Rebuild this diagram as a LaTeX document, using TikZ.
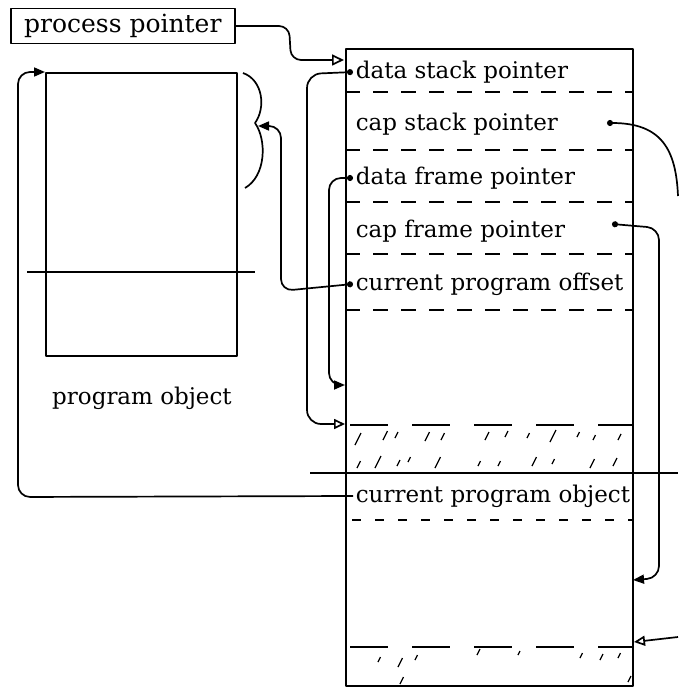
\documentclass[tikz,border=0pt]{standalone}
\usepackage{fontspec}
\setmainfont{DejaVu Serif}
\usetikzlibrary{arrows.meta, positioning, calc}

\begin{document}
\begin{tikzpicture}[x=1pt, y=-1pt, line width=1.7pt, line join=round,
  font=\fontsize{23}{27}\selectfont,
  field/.style={anchor=west, inner sep=2pt},
  ptr/.style={{Circle[length=6pt]}-{Triangle[length=11pt, width=9pt]}, rounded corners=12pt},
  ptropen/.style={{Circle[length=6pt]}-{Triangle[open, length=11pt, width=10pt]}, rounded corners=14pt},
  rowsep/.style={line width=1.8pt, dash pattern=on 15pt off 13pt},
  longsep/.style={line width=1.8pt, dash pattern=on 38pt off 24pt},
  shortsep/.style={line width=1.8pt, dash pattern=on 9pt off 14pt},
  hatch/.style={line width=1.2pt}]

\useasboundingbox (0,0) rectangle (678,690);

% Define nodes
\node[draw, inner sep=3pt, anchor=west, minimum width=224pt, minimum height=35pt,
  font=\fontsize{25}{29}\selectfont] (pp) at (10,26) {process pointer};
\node[draw, anchor=north west, inner sep=0pt, minimum width=191pt, minimum height=283pt] (prog) at (45,72) {};
\node (progl) at (142,398) {program object};
\node[draw, anchor=north west, inner sep=0pt, minimum width=287pt, minimum height=637pt] (stack) at (345,48) {};

\node[field] (dsp) at (353,72) {data stack pointer};
\node[field] (csp) at (353,124) {cap stack pointer};
\node[field] (dfp) at (353,178) {data frame pointer};
\node[field] (cfp) at (353,231) {cap frame pointer};
\node[field] (cpo) at (353,284) {current program offset};
\node[field] (cpob) at (353,496) {current program object};

% Free ends
\coordinate (in-pp) at (344,60);
\coordinate (in-dfp) at (345,385);
\coordinate (in-dsp) at (345,424);
\coordinate (in-cfp) at (633,580);
\coordinate (in-csp) at (634,642);
\coordinate (csp-dot) at (607,123);
\coordinate (cfp-dot) at (612,224);
\coordinate (csp-out) at (678,196);
\coordinate (csp-back) at (678,637);
\coordinate (brace-tip) at (258,126);

% Row separators
\foreach \ry in {92,150,202,254,310}
  \draw[rowsep] (345,\ry) -- (632,\ry);
\draw[longsep] (350,425) -- (632,425);
\draw[longsep] (350,647) -- (632,647);
\draw[shortsep] (352,520) -- (632,520);
\draw (310,473) -- (678,473);
\draw (27,272) -- (255,272);

% Hatching
\foreach \hx/\hy/\hl in {355/445/12, 383/440/9, 395/438/6, 425/441/9, 441/440/7, 485/440/8,
    505/437/6, 527/438/5, 550/442/12, 577/437/5, 593/440/5, 618/440/6,
    357/468/7, 375/468/12, 397/466/6, 408/462/5, 435/468/11, 478/466/5, 498/466/5,
    532/466/9, 552/464/5, 590/468/9, 613/466/8,
    378/662/5, 398/667/9, 415/660/5, 477/655/6, 518/655/4, 580/658/5, 600/660/6, 618/658/5,
    400/684/7, 628/682/6}
  \draw[hatch] (\hx,\hy) -- ++(0.5*\hl,-\hl);

% Brace on program object
\draw (243,73) .. controls (263,80) and (266,108) .. (255,123)
  .. controls (267,140) and (266,176) .. (245,188);

% Pointers
\draw[-{Triangle[open, length=12pt, width=11pt]}, rounded corners=10pt]
  (pp.east) -- (289,26) -- (291,60) -- (in-pp);
\draw[ptropen] (dsp.west) -- (307,74) -- (307,424) -- (in-dsp);
\draw[ptr] (dfp.west) -- (329,178) -- (329,385) -- (in-dfp);
\draw[ptr] (cpo.west) -- (281,291) -- (281,126) -- (brace-tip);
\draw[ptr] (cfp-dot) -- (659,228) -- (659,578) -- (in-cfp);
\draw[{Circle[length=6pt]}-] (csp-dot) .. controls (662,123) and (676,150) .. (csp-out);
\draw[-{Triangle[open, length=11pt, width=10pt]}] (csp-back) -- (in-csp);
\draw[-{Triangle[length=11pt, width=9pt]}, rounded corners=12pt]
  (cpob.west) -- (18,497) -- (18,72) -- (prog.north west);

\end{tikzpicture}
\end{document}
